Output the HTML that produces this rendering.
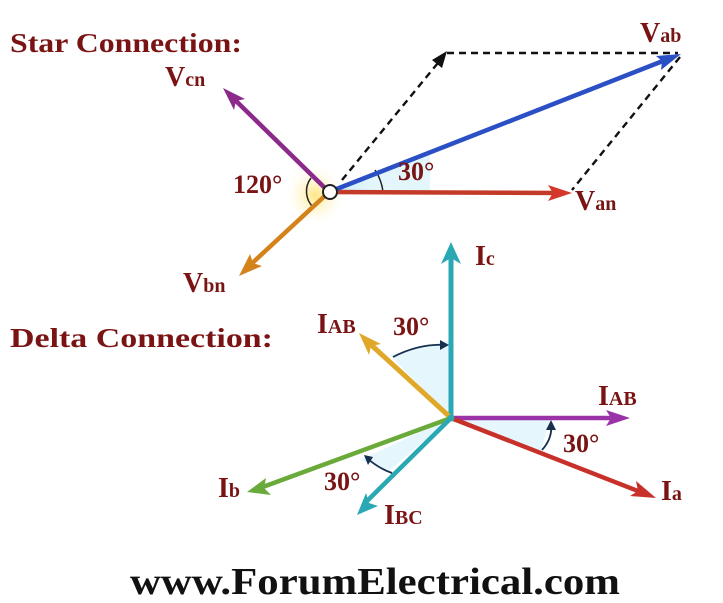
<!DOCTYPE html>
<html><head><meta charset="utf-8"><style>
body{margin:0;background:#fff}
svg{display:block}
text{font-family:"Liberation Serif",serif;font-weight:bold;fill:#7a1414}
</style></head><body>
<svg width="723" height="603" viewBox="0 0 723 603">
<defs>
<radialGradient id="y" cx="0.5" cy="0.5" r="0.5"><stop offset="0" stop-color="#ffe680"/><stop offset="1" stop-color="#fff" stop-opacity="0"/></radialGradient>
<radialGradient id="c" cx="0" cy="0.5" r="1"><stop offset="0" stop-color="#7fd8f0"/><stop offset="1" stop-color="#fff" stop-opacity="0"/></radialGradient>
</defs>
<text x="10" y="52" font-size="27" textLength="232" lengthAdjust="spacingAndGlyphs">Star Connection:</text>
<text x="10" y="347" font-size="27" textLength="263" lengthAdjust="spacingAndGlyphs">Delta Connection:</text>
<text x="130" y="594" font-size="38" textLength="490" lengthAdjust="spacingAndGlyphs" style="fill:#111">www.ForumElectrical.com</text>
<!-- star -->
<circle cx="315" cy="195" r="32" fill="url(#y)"/>
<path d="M329 192 L380 192 A51 51 0 0 0 375 170 Z" fill="url(#c)"/>
<path d="M329 192 L430 192 L430 150 Z" fill="#c8eefa" opacity="0.5"/>
<g stroke="#111" stroke-width="2.4" stroke-dasharray="7,5" fill="none">
<line x1="342" y1="180" x2="442" y2="58"/><line x1="447" y1="53" x2="678" y2="53"/><line x1="680" y1="57" x2="572" y2="190"/>
</g>
<polygon points="447,51 432,60 442,68" fill="#111"/>
<path d="M311 178 A22 22 0 0 0 313 207" fill="none" stroke="#222" stroke-width="1.5"/>
<path d="M375 170 A50 50 0 0 1 383 192" fill="none" stroke="#222" stroke-width="1.5"/>
<line x1="329" y1="192" x2="560" y2="193" stroke="#c43a28" stroke-width="4.5"/>
<polygon points="572,193 548,185 553,193 548,201" fill="#d4382a"/>
<line x1="329" y1="192" x2="668" y2="59" stroke="#2b4fc4" stroke-width="4.5"/>
<polygon points="681,54 656,56 662,61 661,70" fill="#2b4fc4"/>
<line x1="329" y1="192" x2="232" y2="97" stroke="#8c2a8c" stroke-width="4.5"/>
<polygon points="223,88 234,110 236,101 245,99" fill="#8c2a8c"/>
<line x1="329" y1="192" x2="248" y2="267" stroke="#d4821c" stroke-width="4.5"/>
<polygon points="239,276 250,254 253,263 262,266" fill="#d4821c"/>
<circle cx="330" cy="192" r="7" fill="#fff" stroke="#222" stroke-width="2"/>
<text x="233" y="193" font-size="26">120°</text>
<text x="398" y="180" font-size="26">30°</text>
<text x="575" y="210" font-size="28">V<tspan font-size="20">an</tspan></text>
<text x="640" y="42" font-size="28">V<tspan font-size="20">ab</tspan></text>
<text x="165" y="86" font-size="28">V<tspan font-size="20">cn</tspan></text>
<text x="183" y="292" font-size="28">V<tspan font-size="20">bn</tspan></text>
<!-- delta -->
<path d="M451 418 L451 340 L390 355 Z" fill="#d4f2fa" opacity="0.6"/>
<path d="M451 418 L550 418 L540 455 Z" fill="#d4f2fa" opacity="0.6"/>
<path d="M451 418 L360 460 L390 470 Z" fill="#d4f2fa" opacity="0.6"/>
<line x1="451" y1="418" x2="451" y2="256" stroke="#2aa8b4" stroke-width="5"/>
<polygon points="451,242 441,264 451,258 461,264" fill="#2aa8b4"/>
<line x1="451" y1="418" x2="368" y2="342" stroke="#e0a828" stroke-width="5"/>
<polygon points="359,333 369,355 371,346 381,344" fill="#e0a828"/>
<line x1="451" y1="418" x2="618" y2="418" stroke="#9a32a8" stroke-width="4.5"/>
<polygon points="630,418 606,410 611,418 606,426" fill="#9a32a8"/>
<line x1="451" y1="418" x2="643" y2="493" stroke="#c8302a" stroke-width="4.5"/>
<polygon points="656,498 636,481 638,491 630,496" fill="#c8302a"/>
<line x1="451" y1="418" x2="260" y2="488" stroke="#6aaa3a" stroke-width="4.5"/>
<polygon points="247,492 271,495 264,488 266,478" fill="#6aaa3a"/>
<line x1="451" y1="418" x2="364" y2="504" stroke="#2aa8b4" stroke-width="4.5"/>
<polygon points="357,515 378,506 369,503 366,493" fill="#2aa8b4"/>
<circle cx="451" cy="418" r="3.5" fill="#2aa8b4"/>
<g fill="none" stroke="#173050" stroke-width="1.8">
<path d="M393 357 Q420 343 447 345"/><path d="M542 450 Q553 438 551 423"/><path d="M392 473 Q378 468 367 458"/>
</g>
<polygon points="449,345 440,340 440,350" fill="#173050"/>
<polygon points="551,420 546,430 556,430" fill="#173050"/>
<polygon points="364,455 368,465 373,457" fill="#173050"/>
<text x="475" y="265" font-size="28">I<tspan font-size="20">c</tspan></text>
<text x="317" y="333" font-size="28">I<tspan font-size="20">AB</tspan></text>
<text x="393" y="335" font-size="26">30°</text>
<text x="598" y="405" font-size="28">I<tspan font-size="20">AB</tspan></text>
<text x="563" y="452" font-size="26">30°</text>
<text x="661" y="500" font-size="28">I<tspan font-size="20">a</tspan></text>
<text x="218" y="497" font-size="28">I<tspan font-size="20">b</tspan></text>
<text x="324" y="490" font-size="26">30°</text>
<text x="384" y="524" font-size="28">I<tspan font-size="20">BC</tspan></text>
</svg>
</body></html>
